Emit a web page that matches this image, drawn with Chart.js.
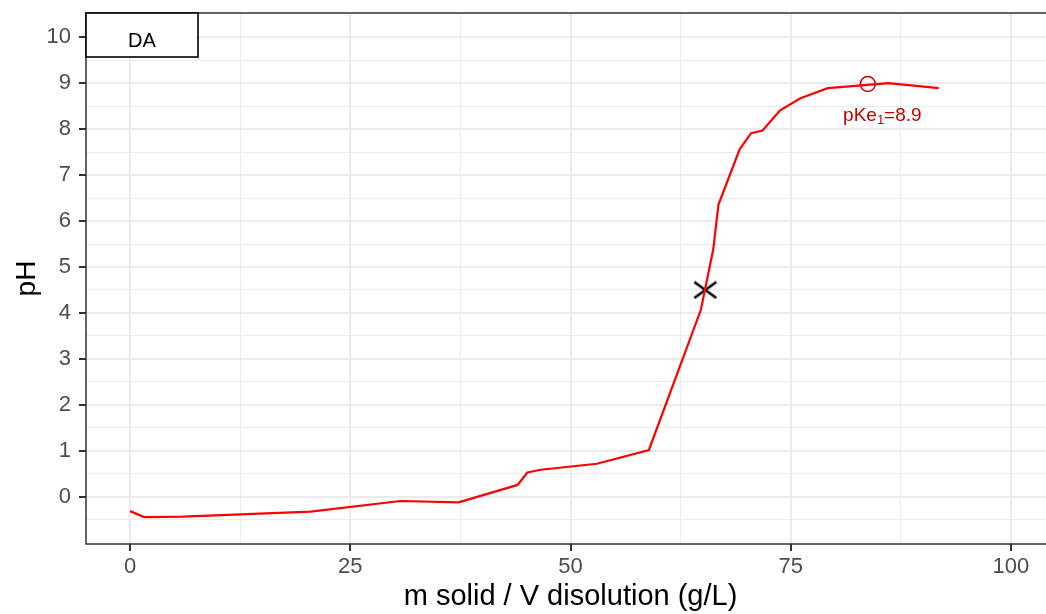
<!DOCTYPE html>
<html><head><meta charset="utf-8">
<script src="https://cdn.jsdelivr.net/npm/chart.js@4.4.1/dist/chart.umd.min.js"></script>
<style>html,body{margin:0;padding:0;overflow:hidden;background:#fff;width:1046px;height:614px}canvas{display:block}</style>
</head><body><canvas id="c" width="1070" height="614" style="width:1070px;height:614px"></canvas>
<script>
// ---- data ----
const xValues  = [0, 1.6, 6, 20.5, 30.7, 37.3, 44.0, 45.1, 46.6, 53.0, 58.9, 64.8, 66.2, 66.8, 69.2, 70.5, 71.8, 73.8, 76.1, 79.2, 86.1, 91.8];
const pHValues = [-0.31, -0.44, -0.43, -0.32, -0.09, -0.12, 0.26, 0.53, 0.59, 0.72, 1.02, 4.07, 5.38, 6.36, 7.56, 7.91, 7.97, 8.41, 8.67, 8.89, 9.00, 8.89];
const seriesName = 'DA';
const xMajorTicks = [0, 25, 50, 75, 100];
const xMinorTicks = [12.5, 37.5, 62.5, 87.5];
const yMajorTicks = [0, 1, 2, 3, 4, 5, 6, 7, 8, 9, 10];
const yMinorTicks = [-0.5, 0.5, 1.5, 2.5, 3.5, 4.5, 5.5, 6.5, 7.5, 8.5, 9.5];
const equivalencePoint = [{x: 65.3, y: 4.50}];
const pKePoint = [{x: 83.75, y: 8.98}];
const pKeText = {main: 'pKe', sub: '1', rest: '=8.9', x: 85.4, y: 8.18};
const xTitle = 'm solid / V disolution (g/L)';
const yTitle = 'pH';

const FONT = "'Liberation Sans', Arial, sans-serif";
const isMajor = (v, arr) => arr.some(a => Math.abs(a - v) < 1e-9);

// X marker image (wider than tall)
const xMark = document.createElement('canvas');
xMark.width = 25; xMark.height = 19;
(function(){
  const g = xMark.getContext('2d');
  g.strokeStyle = '#000'; g.lineWidth = 2.6; g.lineCap = 'butt';
  g.beginPath();
  g.moveTo(1.5, 1.5); g.lineTo(23.5, 17.5);
  g.moveTo(23.5, 1.5); g.lineTo(1.5, 17.5);
  g.stroke();
})();

const framePlugin = {
  id: 'frame',
  afterDatasetsDraw(chart) {
    const {ctx, scales} = chart;
    const xs = scales.x, ys = scales.y;
    const px = xs.getPixelForValue(pKeText.x), py = ys.getPixelForValue(pKeText.y);
    ctx.save();
    ctx.fillStyle = '#c00000';
    ctx.textBaseline = 'alphabetic';
    const f1 = '19px ' + FONT, f2 = '13px ' + FONT;
    ctx.font = f1; const w1 = ctx.measureText(pKeText.main).width; const w3 = ctx.measureText(pKeText.rest).width;
    ctx.font = f2; const w2 = ctx.measureText(pKeText.sub).width;
    let x0 = px - (w1 + w2 + w3) / 2;
    ctx.textAlign = 'left';
    ctx.font = f1; ctx.fillText(pKeText.main, x0, py);
    ctx.font = f2; ctx.fillText(pKeText.sub, x0 + w1, py + 3);
    ctx.font = f1; ctx.fillText(pKeText.rest, x0 + w1 + w2, py);
    ctx.restore();
  },
  afterDraw(chart) {
    const {ctx, chartArea: a} = chart;
    ctx.save();
    ctx.strokeStyle = '#333333'; ctx.lineWidth = 1.5;
    ctx.strokeRect(a.left, a.top, a.right - a.left, a.bottom - a.top);
    // legend box
    const bx = a.left, by = a.top, bw = 112, bh = 44;
    ctx.fillStyle = '#fff';
    ctx.fillRect(bx, by, bw, bh);
    ctx.strokeStyle = '#000'; ctx.lineWidth = 1.6;
    ctx.strokeRect(bx, by, bw, bh);
    ctx.fillStyle = '#000';
    ctx.font = '20px ' + FONT;
    ctx.textAlign = 'center'; ctx.textBaseline = 'alphabetic';
    ctx.fillText(seriesName, bx + bw / 2, by + 34);
    ctx.restore();
  }
};

new Chart(document.getElementById('c'), {
  type: 'scatter',
  data: {
    datasets: [
      {
        label: seriesName,
        data: xValues.map((x, i) => ({x, y: pHValues[i]})),
        showLine: true, borderColor: '#ff0000', borderWidth: 2.2,
        pointRadius: 0, tension: 0, fill: false
      },
      {
        label: 'eq',
        data: equivalencePoint,
        pointStyle: xMark, pointRadius: 10
      },
      {
        label: 'pKe',
        data: pKePoint,
        pointStyle: 'circle', pointRadius: 7.5, borderColor: '#c00000',
        backgroundColor: 'rgba(0,0,0,0)', borderWidth: 1.5
      }
    ]
  },
  options: {
    responsive: false, animation: false, devicePixelRatio: 1,
    layout: {padding: {top: 13, right: 15, left: 0, bottom: 0}},
    plugins: {legend: {display: false}, tooltip: {enabled: false}},
    scales: {
      x: {
        type: 'linear', min: -5, max: 105,
        afterBuildTicks: s => { s.ticks = [...xMajorTicks, ...xMinorTicks].sort((a, b) => a - b).map(v => ({value: v})); },
        afterFit: s => { s.height = 70; s.paddingLeft = 0; s.paddingRight = 0; },
        border: {display: false},
        grid: {
          color: '#ebebeb',
          lineWidth: c => isMajor(c.tick.value, xMajorTicks) ? 2 : 1,
          tickColor: c => isMajor(c.tick.value, xMajorTicks) ? '#333333' : 'rgba(0,0,0,0)',
          tickWidth: 2, tickLength: 7
        },
        ticks: {
          autoSkip: false, maxRotation: 0, padding: 3,
          color: '#4d4d4d', font: {family: FONT, size: 22},
          callback: v => isMajor(v, xMajorTicks) ? String(v) : ''
        },
        title: {display: true, text: xTitle, color: '#000', font: {family: FONT, size: 29}, padding: {top: 0, bottom: 0}}
      },
      y: {
        type: 'linear', min: -1.025, max: 10.525,
        afterBuildTicks: s => { s.ticks = [...yMajorTicks, ...yMinorTicks].sort((a, b) => a - b).map(v => ({value: v})); },
        afterFit: s => { s.width = 86; s.paddingTop = 0; s.paddingBottom = 0; },
        border: {display: false},
        grid: {
          color: '#ebebeb',
          lineWidth: c => isMajor(c.tick.value, yMajorTicks) ? 2 : 1,
          tickColor: c => isMajor(c.tick.value, yMajorTicks) ? '#333333' : 'rgba(0,0,0,0)',
          tickWidth: 2, tickLength: 7
        },
        ticks: {
          autoSkip: false, padding: 8,
          color: '#4d4d4d', font: {family: FONT, size: 22},
          callback: v => isMajor(v, yMajorTicks) ? String(v) : ''
        },
        title: {display: true, text: yTitle, color: '#000', font: {family: FONT, size: 28}, padding: {top: 10, bottom: 0}}
      }
    }
  },
  plugins: [framePlugin]
});
</script>
</body></html>
